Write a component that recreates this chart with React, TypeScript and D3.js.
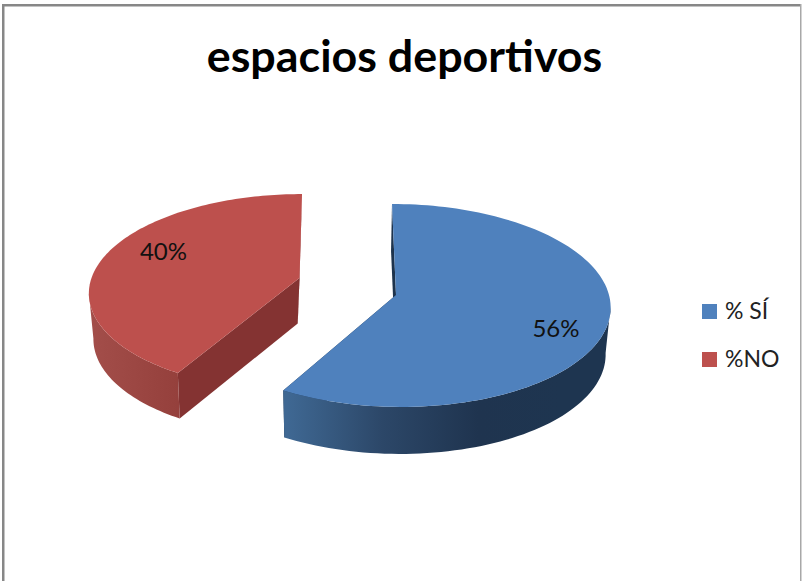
import React from "react";
import * as d3 from "d3";

const categories = ["% SÍ", "%NO"];
const values = [56, 40];
const valueLabels = ["56%", "40%"];
const chartTitle = "espacios deportivos";

const topColors = ["#4f81bd", "#bd504d"];
const sideStops = [
  [["0%", "#3f6893"], ["35%", "#2c4768"], ["70%", "#1f344f"], ["100%", "#1e3550"]],
  [["0%", "#a34e4a"], ["100%", "#95403c"]],
];
const radialWallColors = ["#1d334d", "#843332"];

// Perspective layout of each exploded slice
const sliceLayouts = [
  { cx: 396, cy: 295, rx: 213, ry: 100.4, k: 0.103, skew: 4.4, depth: 47, vx: 340, pull: 0.0185, labelX: 556, labelY: 337, gradX: [287, 560] },
  { cx: 299.5, cy: 278, rx: 208, ry: 96, k: 0.144, skew: -2.9, depth: 45.5, vx: 240, pull: 0.03, labelX: 163.5, labelY: 260, gradX: [90, 178] },
];

const FONT = "Lato, Carlito, 'Open Sans', sans-serif";

export default function App() {
  const arcs = d3.pie<number>().sort(null)(values);
  const line = d3.line<[number, number]>();

  const slices = arcs.map((a, i) => {
    const L = sliceLayouts[i];
    const proj = (theta: number, r = 1, low = false): [number, number] => {
      const u = Math.sin(theta) * r;
      const v = -Math.cos(theta) * r;
      const w = 1 - L.k * v;
      let x = L.cx + (L.rx * u + L.skew * v) / w;
      let y = L.cy + (L.ry * v) / w;
      if (low) {
        x += (L.vx - x) * L.pull;
        y += L.depth;
      }
      return [x, y];
    };
    const n = 120;
    const thetas = d3.range(n + 1).map((j) => a.startAngle + ((a.endAngle - a.startAngle) * j) / n);
    const rim = thetas.map((t) => proj(t));
    const rimLow = thetas.map((t) => proj(t, 1, true));
    const apex = proj(0, 0);
    const apexLow = proj(0, 0, true);
    const face = line([apex, ...rim])! + "Z";
    // Keep only the outer-wall pieces facing the viewer (rim runs leftward along the front)
    const front = d3.range(n).filter((j) => rim[j + 1][0] < rim[j][0]);
    const frontRim = front.map((j) => rim[j]).concat([rim[front[front.length - 1] + 1]]);
    const frontLow = front.map((j) => rimLow[j]).concat([rimLow[front[front.length - 1] + 1]]);
    const side = line([...frontRim, ...frontLow.reverse()])! + "Z";
    const wallA = line([apex, rim[0], rimLow[0], apexLow])! + "Z";
    const wallB = line([apex, rim[n], rimLow[n], apexLow])! + "Z";
    return { i, face, side, wallA, wallB };
  });

  return (
    <svg
      width={804}
      height={581}
      style={{ position: "absolute", left: 0, top: 0, display: "block", background: "#fff" }}
    >
      <defs>
        {sliceLayouts.map((L, i) => (
          <linearGradient
            key={i}
            id={`side${i}`}
            gradientUnits="userSpaceOnUse"
            x1={L.gradX[0]}
            x2={L.gradX[1]}
            y1={0}
            y2={0}
          >
            {sideStops[i].map(([o, c]) => (
              <stop key={o} offset={o} stopColor={c} />
            ))}
          </linearGradient>
        ))}
      </defs>

      <rect x={2} y={4} width={799} height={2.5} fill="#878787" />
      <rect x={2} y={4} width={2.5} height={577} fill="#878787" />
      <rect x={800} y={4} width={1.5} height={577} fill="#a8a8a8" />

      <text x={404.5} y={72} textAnchor="middle" fontFamily={FONT} fontWeight={700} fontSize={44.8} fill="#000">
        {chartTitle}
      </text>

      {slices.map((s) => (
        <g key={s.i}>
          <path d={s.wallA} fill={radialWallColors[s.i]} />
          <path d={s.wallB} fill={radialWallColors[s.i]} />
          <path d={s.side} fill={`url(#side${s.i})`} />
          <path d={s.face} fill={topColors[s.i]} />
          <text
            x={sliceLayouts[s.i].labelX}
            y={sliceLayouts[s.i].labelY}
            textAnchor="middle"
            fontFamily={FONT}
            fontSize={24}
            fill="#111"
          >
            {valueLabels[s.i]}
          </text>
        </g>
      ))}

      {categories.map((c, i) => (
        <g key={c} transform={`translate(702,${304 + i * 48})`}>
          <rect width={15} height={15} fill={topColors[i]} />
          <text x={23} y={15} fontFamily={FONT} fontSize={23} fill="#222">
            {c}
          </text>
        </g>
      ))}
    </svg>
  );
}
